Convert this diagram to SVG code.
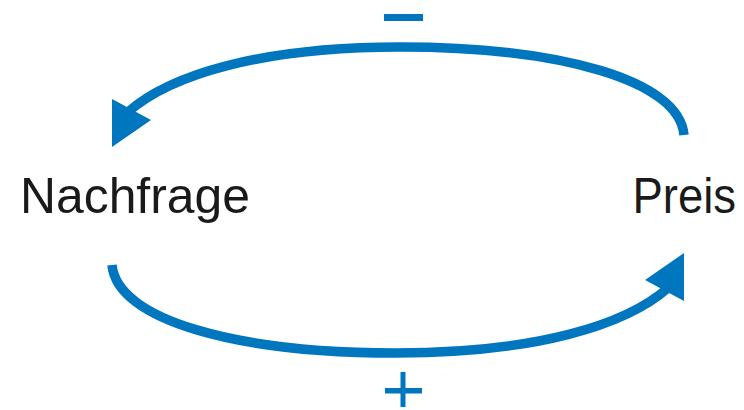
<svg xmlns="http://www.w3.org/2000/svg" width="744" height="410" viewBox="0 0 744 410">
<style>
.arc{fill:none;stroke:#0076bf;stroke-width:9.5}
.head{fill:#0076bf}
.lbl{font-family:"Liberation Sans",Arial,sans-serif;font-size:50px;fill:#1a1a1a}
.sign{fill:#0076bf}
</style>
<rect width="744" height="410" fill="#ffffff"/>
<g id="connectors">
<g id="edge-preis-nachfrage">
<path class="arc" d="M684,135 C679,80 560,47 400,47 C260,47 170,75 128,112"/>
<polygon class="head" points="112,99 151,120 112,147"/>
<rect class="sign" x="384" y="14" width="39" height="7"/>
</g>
<g id="edge-nachfrage-preis">
<path class="arc" d="M112,265 C117,320 236,353 396,353 C536,353 626,325 668,288"/>
<polygon class="head" points="684,253 645,280 684,301"/>
<rect class="sign" x="385" y="388" width="37" height="5.5"/>
<rect class="sign" x="400.5" y="372" width="5" height="35"/>
</g>
</g>
<g id="node-nachfrage"><text class="lbl" x="20" y="213" textLength="230" lengthAdjust="spacingAndGlyphs">Nachfrage</text></g>
<g id="node-preis"><text class="lbl" transform="scale(0.91,1)" x="695" y="213">Preis</text></g>
</svg>
